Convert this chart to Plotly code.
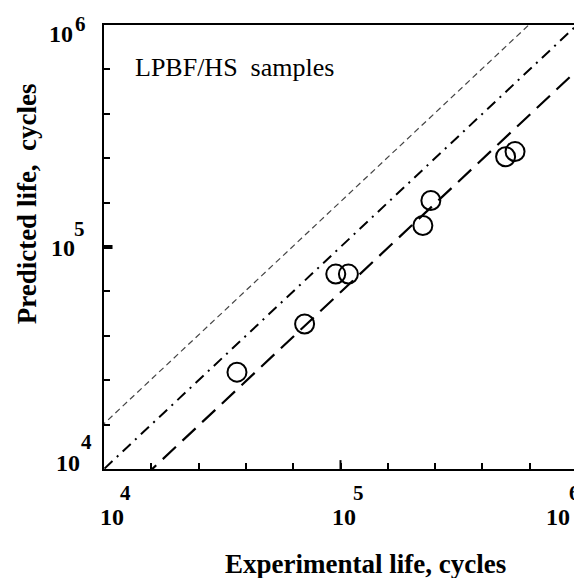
import plotly.graph_objects as go

# Data
experimental_life = [36500, 70500, 95500, 108000, 223000, 241000, 499000, 547000]
predicted_life = [27300, 45000, 75500, 75500, 125000, 162000, 255000, 269000]

# Scatter-band factors (upper factor, 1:1, lower factor)
band_factors = [1.6, 1.0, 1 / 1.6]
band_x = [1e3, 1e7]

decades = [4, 5, 6]
tick_exponents = ["4", "5", "6"]
minor_step = 0.2

FONT = "Liberation Serif"

fig = go.Figure()

fig.add_trace(go.Scatter(x=band_x, y=[v * band_factors[0] for v in band_x], mode="lines",
                         line=dict(color="#444444", width=1.2, dash="6px,4px"), showlegend=False))
fig.add_trace(go.Scatter(x=band_x, y=[v * band_factors[1] for v in band_x], mode="lines",
                         line=dict(color="black", width=2, dash="11px,6px,2px,6px"), showlegend=False))
fig.add_trace(go.Scatter(x=band_x, y=[v * band_factors[2] for v in band_x], mode="lines",
                         line=dict(color="black", width=2.2, dash="18px,9px"), showlegend=False))

fig.add_trace(go.Scatter(x=experimental_life, y=predicted_life, mode="markers",
                         marker=dict(symbol="circle-open", size=19, color="black",
                                     line=dict(width=2, color="black")),
                         showlegend=False))

n_ticks = int(round((decades[-1] - decades[0]) / minor_step)) + 1
tick_vals = [10 ** (decades[0] + minor_step * k) for k in range(n_ticks)]

axis_common = dict(type="log", range=[decades[0], decades[-1]], tickvals=tick_vals,
                   ticks="inside", ticklen=6, tickwidth=1.5, tickcolor="black",
                   showticklabels=False, showline=True, linewidth=2, linecolor="black",
                   mirror=True, showgrid=False, zeroline=False)
fig.update_xaxes(**axis_common)
fig.update_yaxes(**axis_common)

fig.add_shape(type="line", xref="paper", yref="y", x0=0, x1=0.018,
              y0=10 ** decades[1], y1=10 ** decades[1], line=dict(color="black", width=4))
fig.add_shape(type="line", xref="x", yref="paper", x0=10 ** decades[1], x1=10 ** decades[1],
              y0=0, y1=0.02, line=dict(color="black", width=2))

# Page offset (browser body margin) and target pixel geometry of the plot area
OFF = 8
PL, PR, PT, PB = 104, 579, 25, 469          # plot area in page pixels
W, H = 582, 578
L, T = PL - OFF, PT - OFF
R, B = W - (PR - OFF), H - (PB - OFF)
pw, ph = PR - PL, PB - PT

ann = []
txt = dict(showarrow=False, xanchor="center", yanchor="middle")
# x-axis tick labels: (base shift, exponent shift)
x_shifts = [(8, 21), (3, 18), (-19, -3)]
for d, e, (bs, es) in zip(decades, tick_exponents, x_shifts):
    ann.append(dict(x=d, y=0, xref="x", yref="paper", text="<b>10</b>",
                    xshift=bs, yshift=-(517 - PB), font=dict(family=FONT, size=24, color="black"), **txt))
    ann.append(dict(x=d, y=0, xref="x", yref="paper", text="<b>%s</b>" % e,
                    xshift=es, yshift=-(493 - PB), font=dict(family=FONT, size=21, color="black"), **txt))
# y-axis tick labels: page pixel centres (base x, base dy, exp x, exp dy)
y_pos = [(68, 6, 86, 27), (63, -1, 79, 18), (61, -9, 80, 1)]
for d, e, (bx, by, ex, ey) in zip(decades, tick_exponents, y_pos):
    ann.append(dict(x=0, y=d, xref="paper", yref="y", text="<b>10</b>",
                    xshift=bx - PL, yshift=by, font=dict(family=FONT, size=24, color="black"), **txt))
    ann.append(dict(x=0, y=d, xref="paper", yref="y", text="<b>%s</b>" % e,
                    xshift=ex - PL, yshift=ey, font=dict(family=FONT, size=21, color="black"), **txt))

titles = [
    dict(x=367, y=564, text="<b>Experimental life, cycles</b>", font=dict(family=FONT, size=27, color="black"),
         xanchor="center", textangle=0),
    dict(x=27, y=204, text="<b>Predicted life,  cycles</b>", font=dict(family=FONT, size=27, color="black"),
         xanchor="center", textangle=-90),
    dict(x=133, y=67, text="LPBF/HS  samples", font=dict(family=FONT, size=26, color="black"),
         xanchor="left", textangle=0),
]
for a in titles:
    a["x"] = (a["x"] - PL) / pw
    a["y"] = (PB - a["y"]) / ph
    a.update(xref="paper", yref="paper", showarrow=False, yanchor="middle")
    ann.append(a)

fig.update_layout(width=W, height=H, margin=dict(l=L, r=R, t=T, b=B),
                  plot_bgcolor="white", paper_bgcolor="white", annotations=ann,
                  font=dict(family=FONT, color="black"))

fig.write_html("out.html")
